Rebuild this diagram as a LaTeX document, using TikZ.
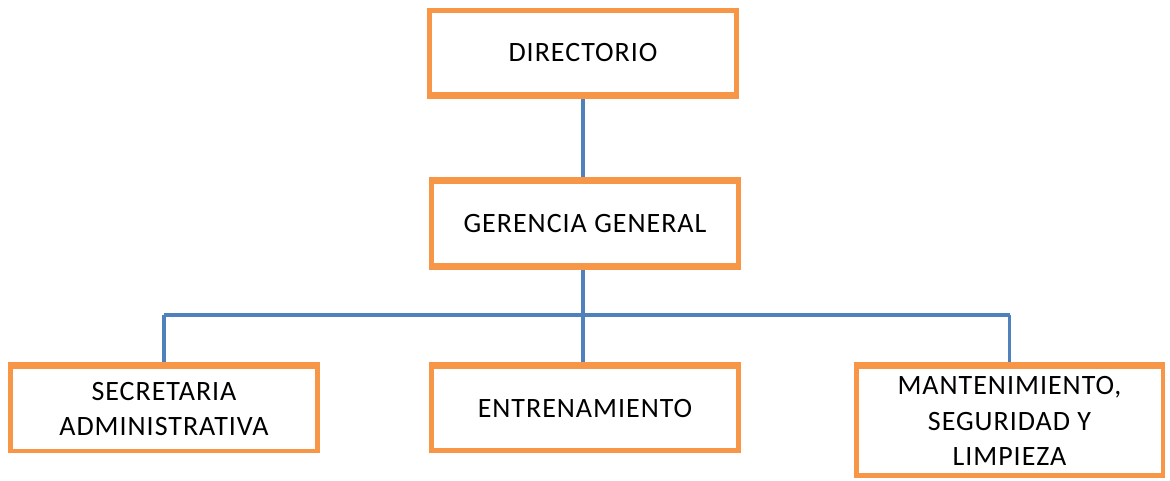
\documentclass[tikz,border=0pt]{standalone}
\usepackage{fontspec}
\setmainfont{Carlito}[LetterSpace=3.5]
\usepackage{tikz}
\usetikzlibrary{calc}

\definecolor{boxorange}{HTML}{F79646}
\definecolor{lineblue}{HTML}{4F81BD}

\begin{document}
\begin{tikzpicture}[x=0.75pt,y=-0.75pt,
    unit/.style={draw=boxorange, line width=3.5pt, fill=white, align=center,
        font=\fontsize{21}{26.5}\selectfont, inner sep=0pt,
        minimum width=230pt, minimum height=63pt},
    link/.style={draw=lineblue, line width=2.5pt}]

            \useasboundingbox (0,0) rectangle (1170,480); % Canvas

            % Boxes
            \node[unit] (dir) at (583,52.5) {DIRECTORIO}; % Top box
            \node[unit] (ger) at (585,223.5) {GERENCIA GENERAL}; % Second level
            \node[unit] (sec) at (164,409) {SECRETARIA\\ADMINISTRATIVA}; % Left box
            \node[unit] (ent) at (585,408.5) {ENTRENAMIENTO}; % Middle box
            \node[unit, minimum height=82pt] (man) at (1009.5,421) {MANTENIMIENTO,\\SEGURIDAD Y\\LIMPIEZA}; % Right box

            \coordinate (bus) at (583,315); % Horizontal branch line

            % Connectors
            \draw[link] (dir.south -| bus) -- (ger.north -| bus); % Directorio to Gerencia
            \draw[link] (ger.south -| bus) -- (ent.north -| bus); % Gerencia to Entrenamiento
            \draw[link] (bus -| sec.north) -- (bus -| man.north); % Branch line
            \draw[link] (bus -| sec.north) -- (sec.north); % Branch to Secretaria
            \draw[link] (bus -| man.north) -- (man.north); % Branch to Mantenimiento

            % Redraw box edges on top of line ends
            \draw[boxorange, line width=3.5pt] (dir.south west) -- (dir.south east);
            \draw[boxorange, line width=3.5pt] (ger.north west) -- (ger.north east);
            \draw[boxorange, line width=3.5pt] (ger.south west) -- (ger.south east);
            \draw[boxorange, line width=3.5pt] (sec.north west) -- (sec.north east);
            \draw[boxorange, line width=3.5pt] (ent.north west) -- (ent.north east);
            \draw[boxorange, line width=3.5pt] (man.north west) -- (man.north east);

\end{tikzpicture}
\end{document}
